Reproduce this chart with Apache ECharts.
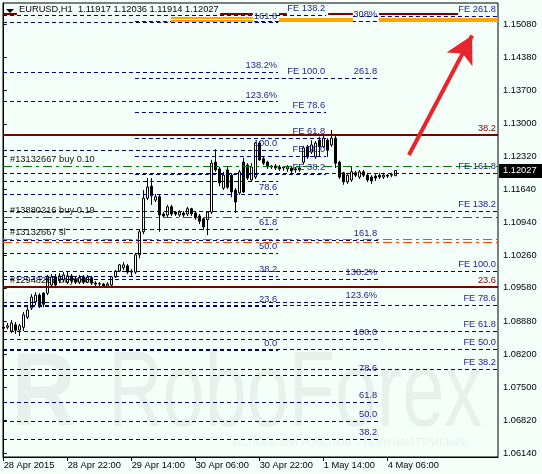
<!DOCTYPE html>
<html><head><meta charset="utf-8">
<script src="https://cdn.jsdelivr.net/npm/echarts@6/dist/echarts.min.js"></script>
<style>html,body{margin:0;padding:0;background:#F5FFFA}#c{width:542px;height:474px}</style>
</head><body><div id="c"></div>
<script>
// ---- data ----
const opens =[1.0876,1.0876,1.0868,1.0881,1.0870,1.0876,1.0897,1.0916,1.0929,1.0943,1.0947,1.0947,1.0964,1.0981,1.0973,1.0975,1.0970,1.0983,1.0977,1.0970,1.0981,1.0970,1.0979,1.0968,1.0966,1.0966,1.0962,1.0964,1.0981,1.0993,1.1000,1.1004,1.0993,1.0991,1.1027,1.1075,1.1145,1.1170,1.1141,1.1148,1.1112,1.1110,1.1127,1.1116,1.1110,1.1114,1.1112,1.1123,1.1114,1.1108,1.1102,1.1100,1.1116,1.1220,1.1206,1.1166,1.1204,1.1193,1.1162,1.1156,1.1220,1.1214,1.1183,1.1189,1.1260,1.1227,1.1220,1.1212,1.1212,1.1210,1.1208,1.1206,1.1208,1.1204,1.1204,1.1220,1.1252,1.1241,1.1231,1.1266,1.1252,1.1266,1.1256,1.1270,1.1220,1.1198,1.1179,1.1183,1.1198,1.1189,1.1200,1.1193,1.1189,1.1191,1.1193,1.1189,1.1193,1.1193,1.11917];
const closes=[1.0874,1.0879,1.0885,1.0870,1.0879,1.0902,1.0912,1.0939,1.0943,1.0922,1.0924,1.0981,1.0981,1.0964,1.0983,1.0985,1.0983,1.0973,1.0970,1.0979,1.0970,1.0981,1.0968,1.0966,1.0967,1.0962,1.0966,1.0981,1.0993,1.1006,1.1006,1.0991,1.0991,1.1027,1.1075,1.1145,1.1168,1.1150,1.1148,1.1110,1.1108,1.1127,1.1112,1.1112,1.1116,1.1110,1.1123,1.1112,1.1104,1.1097,1.1085,1.1116,1.1218,1.1204,1.1177,1.1193,1.1168,1.1158,1.1137,1.1200,1.1158,1.1187,1.1210,1.1260,1.1225,1.1218,1.1210,1.1210,1.1208,1.1206,1.1210,1.1210,1.1202,1.1206,1.1208,1.1250,1.1231,1.1256,1.1260,1.1252,1.1270,1.1245,1.1270,1.1218,1.1189,1.1179,1.1193,1.1200,1.1193,1.1200,1.1193,1.1183,1.1181,1.1187,1.1189,1.1193,1.1191,1.1195,1.12027];
const lows  =[1.0868,1.0872,1.0864,1.0862,1.0858,1.0868,1.0893,1.0912,1.0922,1.0916,1.0918,1.0943,1.0958,1.0960,1.0968,1.0970,1.0966,1.0968,1.0966,1.0966,1.0966,1.0968,1.0964,1.0962,1.0962,1.0958,1.0958,1.0962,1.0979,1.0991,1.0995,1.0987,1.0983,1.0987,1.1020,1.1070,1.1141,1.1131,1.1137,1.1075,1.1104,1.1106,1.1108,1.1108,1.1106,1.1106,1.1108,1.1108,1.1100,1.1091,1.1079,1.1068,1.1112,1.1200,1.1170,1.1162,1.1164,1.1147,1.1114,1.1152,1.1156,1.1183,1.1179,1.1185,1.1223,1.1214,1.1206,1.1206,1.1204,1.1202,1.1202,1.1200,1.1193,1.1198,1.1200,1.1216,1.1227,1.1237,1.1227,1.1231,1.1250,1.1231,1.1252,1.1208,1.1185,1.1173,1.1175,1.1179,1.1189,1.1185,1.1189,1.1179,1.1175,1.1181,1.1185,1.1185,1.1187,1.1189,1.11914];
const highs =[1.0883,1.0885,1.0891,1.0887,1.0883,1.0908,1.0918,1.0945,1.0949,1.0947,1.0949,1.0985,1.0987,1.0987,1.0989,1.0991,1.0991,1.0987,1.0983,1.0985,1.0985,1.0985,1.0983,1.0972,1.0970,1.0968,1.0970,1.0983,1.0995,1.1008,1.1012,1.1008,1.0997,1.1031,1.1079,1.1162,1.1187,1.1187,1.1154,1.1152,1.1116,1.1131,1.1131,1.1118,1.1120,1.1118,1.1127,1.1125,1.1116,1.1112,1.1104,1.1118,1.1225,1.1247,1.1210,1.1200,1.1210,1.1197,1.1166,1.1204,1.1229,1.1218,1.1218,1.1262,1.1264,1.1231,1.1223,1.1214,1.1216,1.1214,1.1212,1.1214,1.1212,1.1210,1.1212,1.1254,1.1256,1.1266,1.1264,1.1273,1.1275,1.1270,1.1287,1.1275,1.1223,1.1200,1.1195,1.1210,1.1202,1.1204,1.1204,1.1198,1.1193,1.1195,1.1198,1.1198,1.1195,1.1198,1.12036];

const xTickIdx    = [0,16,32,48,64,80,96];
const xTickLabels = ['28 Apr 2015','28 Apr 22:00','29 Apr 14:00','30 Apr 06:00','30 Apr 22:00','1 May 14:00','4 May 06:00'];
const yTickValues = [1.06140,1.06820,1.07500,1.08200,1.08880,1.09580,1.10260,1.10940,1.11640,1.12320,1.13000,1.13700,1.14380,1.15080];
const lastPrice = 1.12027;
const headerText = 'EURUSD,H1  1.11917 1.12036 1.11914 1.12027';

const X_MIN = -0.175, X_MAX = 123.575;
const Y_MIN = 1.06056, Y_MAX = 1.15518;

// Fibonacci levels: [price, fromBar, toBar, label]
const fibLevels = [
 [1.1526, X_MIN, 80.6, 'FE 138.2'],
 [1.1511, X_MIN, 68.6, '161.8'],
 [1.1514, 32.8, 93.6, '308%'],
 [1.1524, 87.3, X_MAX, 'FE 261.8'],
 [1.1408, X_MIN, 68.6, '138.2%'],
 [1.1396, 32.8, 93.6, '261.8'],
 [1.1396, 62.5, 80.6, 'FE 100.0'],
 [1.1346, X_MIN, 68.6, '123.6%'],
 [1.1325, 32.8, 80.6, 'FE 78.6'],
 [1.1270, 32.8, 80.6, 'FE 61.8'],
 [1.1245, X_MIN, 68.6, '100.0'],
 [1.1233, 32.8, 80.6, 'FE 50.0'],
 [1.1195, 32.8, 80.6, 'FE 38.2'],
 [1.1197, X_MIN, X_MAX, 'FE 161.8'],
 [1.1181, X_MIN, 68.6, ''],
 [1.1154, X_MIN, 68.6, '78.6'],
 [1.1118, X_MIN, X_MAX, 'FE 138.2'],
 [1.1081, X_MIN, 68.6, '61.8'],
 [1.1058, X_MIN, 93.6, '161.8'],
 [1.1031, X_MIN, 68.6, '50.0'],
 [1.0993, X_MIN, X_MAX, 'FE 100.0'],
 [1.0983, X_MIN, 68.6, '38.2'],
 [1.0977, X_MIN, 93.6, '138.2%'],
 [1.0929, X_MIN, 93.6, '123.6%'],
 [1.0922, X_MIN, X_MAX, 'FE 78.6'],
 [1.0920, X_MIN, 68.6, '23.6'],
 [1.0868, X_MIN, X_MAX, 'FE 61.8'],
 [1.0851, X_MIN, 93.6, '100.0'],
 [1.0831, X_MIN, X_MAX, 'FE 50.0'],
 [1.0829, X_MIN, 68.6, '0.0'],
 [1.0789, X_MIN, X_MAX, 'FE 38.2'],
 [1.0777, X_MIN, 93.6, '78.6'],
 [1.0720, X_MIN, 93.6, '61.8'],
 [1.0681, X_MIN, 93.6, '50.0'],
 [1.0643, X_MIN, 93.6, '38.2']
];
const orangeThin = [[1.15215, 41.8, 62.3], [1.15153, 41.8, 62.3]];
const orangeBand = [[1.15174, 68.8, 87.3], [1.15174, 93.8, X_MAX]];
const buyLevels  = [[1.0961, '#12948267 buy 0.01'], [1.12121, '#13132667 buy 0.10'], [1.11058, '#13880216 buy 0.19']];
const slLevels   = [[1.10599, '#13132667 sl'], [1.10526, '']];
const redLevels  = [[1.12767, X_MIN, X_MAX, '38.2'], [1.09599, X_MIN, X_MAX, '23.6'],
                    [1.1530, 54.1, 62.3, ''], [1.1530, 68.8, 70.8, ''], [1.1530, 81.1, 87.3, ''], [1.1530, 93.8, 113.6, '']];
const arrowFrom = [101.3, 1.1235], arrowTo = [117.1, 1.1484];

// ---- build ----
const FONT = "'Liberation Sans', Arial, sans-serif";
const FS = 9.3;
const candleData = opens.map((o, i) => [i, o, closes[i], lows[i], highs[i]]);

function seg(p, x0, x1, ls, text, lblColor, pos, dist) {
  const a = {coord: [x0, p], lineStyle: ls};
  a.label = text ? {show: true, formatter: text, position: pos || 'insideEndTop', distance: dist || [1, 2],
                    color: lblColor, fontSize: FS, fontFamily: FONT}
                 : {show: false};
  return [a, {coord: [x1, p]}];
}
const navyLS = {color: '#000080', width: 1, type: [4, 3]};
const ml = [];
fibLevels.forEach(l => ml.push(seg(l[0], l[1], l[2], navyLS, l[3], '#23238f', 'insideEndTop', l[2] === X_MAX ? [2, 2] : [1, 2])));
orangeThin.forEach(l => ml.push(seg(l[0], l[1], l[2], {color: '#ffa500', width: 2, type: 'solid'}, '')));
orangeBand.forEach(l => ml.push(seg(l[0], l[1], l[2], {color: '#ffa500', width: 4, type: 'solid'}, '')));
buyLevels.forEach(l => ml.push(seg(l[0], X_MIN, X_MAX, {color: '#008000', width: 1, type: [9, 4, 3, 4]}, l[1], '#111', 'insideStartTop', [7, 2])));
slLevels.forEach(l => ml.push(seg(l[0], X_MIN, X_MAX, {color: '#ff4500', width: 1, type: [9, 4, 3, 4]}, l[1], '#111', 'insideStartTop', [7, 2])));
redLevels.forEach(l => ml.push(seg(l[0], l[1], l[2], {color: '#800000', width: 2, type: 'solid'}, l[3], '#800000', 'insideEndTop', [2, 2])));
ml.push([{coord: arrowFrom, symbol: 'none', lineStyle: {color: '#e8242c', width: 4, type: 'solid'}, label: {show: false}},
         {coord: arrowTo, symbol: 'arrow', symbolSize: [22, 27]}]);

const chart = echarts.init(document.getElementById('c'), null, {renderer: 'canvas'});
chart.setOption({
  animation: false,
  backgroundColor: '#F5FFFA',
  grid: {left: 3, right: 44, top: 3, bottom: 17, show: true, borderColor: '#000', borderWidth: 1, backgroundColor: 'transparent'},
  xAxis: {
    type: 'value', min: X_MIN, max: X_MAX,
    axisLine: {show: true, lineStyle: {color: '#000'}},
    axisTick: {show: true, customValues: xTickIdx, length: 4, lineStyle: {color: '#000'}},
    axisLabel: {customValues: xTickIdx, color: '#000', fontSize: FS, fontFamily: FONT, margin: 4, align: 'left',
                formatter: v => xTickLabels[xTickIdx.indexOf(Math.round(v))] || ''},
    splitLine: {show: false}
  },
  yAxis: {
    type: 'value', position: 'right', min: Y_MIN, max: Y_MAX, scale: true,
    axisLine: {show: true, lineStyle: {color: '#000'}},
    axisTick: {show: true, customValues: yTickValues, length: 3, lineStyle: {color: '#000'}},
    axisLabel: {customValues: yTickValues, color: '#000', fontSize: FS, fontFamily: FONT, margin: 5,
                formatter: v => v.toFixed(5)},
    splitLine: {show: false}
  },
  series: [{
    type: 'candlestick',
    data: candleData,
    encode: {x: 0, y: [1, 2, 3, 4]},
    barWidth: 3,
    itemStyle: {color: '#ffffff', color0: '#000000', borderColor: '#000000', borderColor0: '#000000', borderWidth: 1},
    markLine: {silent: true, animation: false, symbol: ['none', 'none'], precision: 6, data: ml}
  }]
});

const py = chart.convertToPixel({yAxisIndex: 0}, lastPrice);
const wm = '#e8f0ed';
chart.setOption({graphic: {elements: [
  {type: 'text', silent: true, z: -10, x: 12, y: 396, scaleX: 0.85, style: {text: 'R', font: 'bold 104px ' + FONT, fill: wm, verticalAlign: 'middle'}},
  {type: 'text', silent: true, z: -10, x: 108, y: 396, scaleX: 0.70, style: {text: 'RoboForex', font: '108px ' + FONT, fill: wm, verticalAlign: 'middle'}},
  {type: 'text', silent: true, z: -10, x: 233, y: 443, style: {text: 'ИСПОЛЬЗУЙ РОБОТОВ – ПОЛУЧАЙ ПРИБЫЛЬ', font: '10.5px ' + FONT, fill: wm, verticalAlign: 'middle'}},
  {type: 'rect', silent: true, z: 10, shape: {x: 3, y: 13, width: 14, height: 2}, style: {fill: '#800000'}},
  {type: 'polygon', silent: true, z: 10, shape: {points: [[6, 9], [14, 9], [10, 13]]}, style: {fill: '#000'}},
  {type: 'text', silent: true, z: 10, x: 19, y: 9, style: {text: headerText, font: FS + 'px ' + FONT, fill: '#000', verticalAlign: 'middle'}},
  {type: 'rect', silent: true, z: 10, shape: {x: 499, y: Math.round(py) - 7, width: 43, height: 14}, style: {fill: '#000'}},
  {type: 'text', silent: true, z: 11, x: 503, y: py, style: {text: lastPrice.toFixed(5), font: FS + 'px ' + FONT, fill: '#fff', verticalAlign: 'middle'}}
]}});
</script></body></html>
